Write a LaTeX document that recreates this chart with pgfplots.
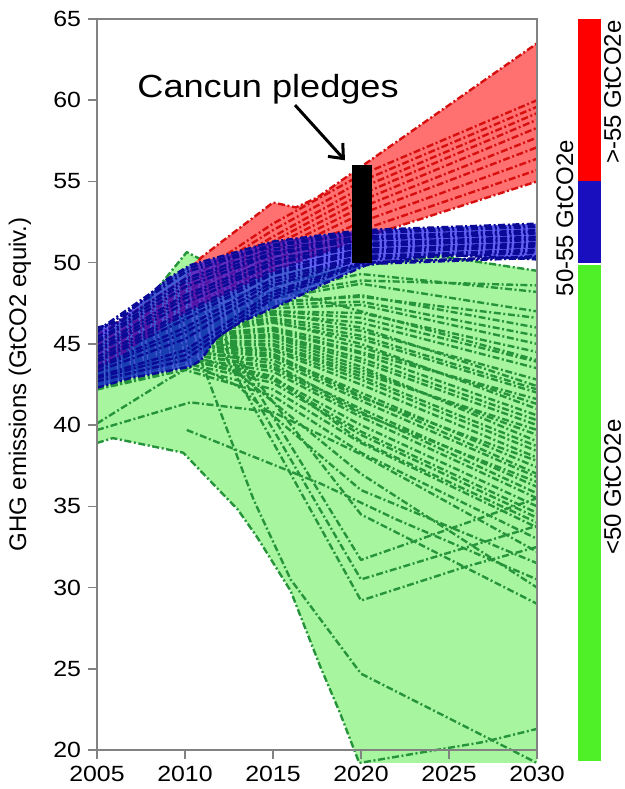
\documentclass[border=0pt]{standalone}
\usepackage{pgfplots}
\pgfplotsset{compat=1.18}
\usepackage{fontspec}
\setmainfont{Liberation Sans}[FakeStretch=1.13]
\newfontfamily\rotfont{Liberation Sans}
\usetikzlibrary{arrows.meta}

\definecolor{gfill}{RGB}{168,245,160}
\definecolor{gline}{RGB}{38,148,58}
\definecolor{rfill}{RGB}{255,112,112}
\definecolor{rline}{RGB}{215,15,15}
\definecolor{bfill}{RGB}{20,20,235}
\definecolor{bline}{RGB}{10,10,150}
\definecolor{axgray}{RGB}{130,130,130}
\definecolor{barred}{RGB}{255,0,0}
\definecolor{barblue}{RGB}{25,15,190}
\definecolor{bargreen}{RGB}{80,240,40}

\pgfplotsset{
  scen/.style={mark=none, line width=1.2bp,
    dash pattern=on 3.5bp off 1.3bp on 1bp off 1.3bp, line join=round},
  gsc/.style={scen, color=gline},
  rsc/.style={scen, color=rline},
  bsc/.style={scen, color=bline},
}

\begin{document}
\begin{tikzpicture}
\useasboundingbox (-48.5bp,-19.5bp) rectangle (264bp,375bp);
\begin{axis}[
  at={(0,0)}, anchor=south west,
  width=220bp, height=365.5bp, scale only axis,
  xmin=2005, xmax=2030, ymin=20, ymax=65,
  xtick={2005,2010,...,2030}, ytick={20,25,...,65},
  tick pos=left, tick align=outside, major tick length=4.5bp,
  tick style={axgray, line width=0.75bp},
  axis line style={axgray, line width=0.75bp},
  /pgf/number format/assume math mode=true,
  /pgf/number format/1000 sep={},
  ticklabel style={font=\fontsize{11bp}{13bp}\selectfont},
  clip=false, axis on top,
  ylabel={GHG emissions (GtCO2 equiv.)},
  ylabel style={font=\rotfont\fontsize{12bp}{14bp}\selectfont,
    at={(axis description cs:-0.175,0.5)}, anchor=center},
]

% ---- below 50 GtCO2e in 2020 ----
\addplot[fill=gfill, draw=none] coordinates {
  (2005,38.9)(2005,45.0)(2008.2,48.1)(2010.1,50.65)(2010.9,50.2)(2013,49.5)
  (2020,49.8)(2024.5,50.5)(2030,49.5)(2030,19.2)(2019.9,19.2)(2018.8,22.3)
  (2017.7,25.1)(2016,29.8)(2014.1,33.1)(2013,34.8)(2011.4,36.6)(2009.9,38.3)
  (2005.9,39.2)} -- cycle;

\addplot[gsc] coordinates {(2005,44.0)(2010,47.0)(2015,48.6)(2020,49.8)(2024.5,50.4)(2030,49.5)};
\addplot[gsc] coordinates {(2005,43.8)(2010,46.8)(2015,48.2)(2020,49.3)(2030,48.2)};
\addplot[gsc] coordinates {(2005,43.6)(2010,46.6)(2015,48.0)(2020,48.9)(2030,48.6)};
\addplot[gsc] coordinates {(2005,43.6)(2010,46.6)(2015,47.8)(2020,48.7)(2030,47.0)};
\addplot[gsc] coordinates {(2005,43.5)(2010,46.4)(2015,47.5)(2020,48.0)(2030,46.0)};
\addplot[gsc] coordinates {(2005,43.5)(2010,46.4)(2015,47.6)(2020,47.9)(2030,46.6)};
\addplot[gsc] coordinates {(2005,43.4)(2010,46.3)(2015,47.4)(2020,47.6)(2030,45.5)};
\addplot[gsc] coordinates {(2005,43.4)(2010,46.2)(2015,47.2)(2020,47.4)(2030,45.0)};
\addplot[gsc] coordinates {(2005,43.3)(2010,46.0)(2015,47.0)(2020,46.9)(2030,44.5)};
\addplot[gsc] coordinates {(2005,43.3)(2010,46.1)(2015,47.0)(2020,46.6)(2030,43.9)};
\addplot[gsc] coordinates {(2005,43.2)(2010,46.0)(2015,46.9)(2020,46.0)(2030,42.4)};
\addplot[gsc] coordinates {(2005,43.2)(2010,45.9)(2015,46.8)(2020,46.3)(2030,43.5)};
\addplot[gsc] coordinates {(2005,43.1)(2010,45.8)(2015,46.6)(2020,45.8)(2030,42.8)};
\addplot[gsc] coordinates {(2005,43.1)(2010,45.8)(2015,46.5)(2020,45.5)(2030,42.2)};
\addplot[gsc] coordinates {(2005,43.0)(2010,45.7)(2015,46.4)(2020,45.0)(2030,41.0)};
\addplot[gsc] coordinates {(2005,43.0)(2010,45.6)(2015,46.3)(2020,45.3)(2030,42.0)};
\addplot[gsc] coordinates {(2005,42.9)(2010,45.5)(2015,46.0)(2020,44.8)(2030,41.3)};
\addplot[gsc] coordinates {(2005,42.9)(2010,45.5)(2015,45.9)(2020,44.5)(2030,41.6)};
\addplot[gsc] coordinates {(2005,42.8)(2010,45.4)(2015,45.8)(2020,44.4)(2030,40.6)};
\addplot[gsc] coordinates {(2005,42.8)(2010,45.3)(2015,45.4)(2020,43.6)(2030,39.0)};
\addplot[gsc] coordinates {(2005,42.8)(2010,45.3)(2015,45.6)(2020,44.1)(2030,40.3)};
\addplot[gsc] coordinates {(2005,42.7)(2010,45.2)(2015,45.5)(2020,43.9)(2030,40.0)};
\addplot[gsc] coordinates {(2005,42.6)(2010,45.1)(2015,45.2)(2020,43.4)(2030,39.4)};
\addplot[gsc] coordinates {(2005,42.6)(2010,45.1)(2015,45.0)(2020,43.2)(2030,39.7)};
\addplot[gsc] coordinates {(2005,42.5)(2010,45.0)(2015,44.9)(2020,43.0)(2030,38.7)};
\addplot[gsc] coordinates {(2005,42.6)(2010,44.9)(2015,44.4)(2020,41.8)(2030,37.0)};
\addplot[gsc] coordinates {(2005,42.5)(2010,44.9)(2015,44.7)(2020,42.8)(2030,38.4)};
\addplot[gsc] coordinates {(2005,42.5)(2010,44.8)(2015,44.6)(2020,42.5)(2030,38.0)};
\addplot[gsc] coordinates {(2005,42.4)(2010,44.7)(2015,44.3)(2020,42.0)(2030,37.4)};
\addplot[gsc] coordinates {(2005,42.4)(2010,44.7)(2015,44.2)(2020,41.7)(2030,37.8)};
\addplot[gsc] coordinates {(2005,42.4)(2010,44.6)(2015,43.8)(2020,40.8)(2030,35.8)};
\addplot[gsc] coordinates {(2005,42.4)(2010,44.5)(2015,44.0)(2020,41.5)(2030,36.8)};
\addplot[gsc] coordinates {(2005,42.3)(2010,44.4)(2015,43.6)(2020,41.0)(2030,36.2)};
\addplot[gsc] coordinates {(2005,42.3)(2010,44.4)(2015,43.5)(2020,40.7)(2030,36.5)};
\addplot[gsc] coordinates {(2005,42.3)(2010,44.2)(2015,43.3)(2020,40.5)(2030,35.5)};
\addplot[gsc] coordinates {(2005,42.3)(2010,44.1)(2015,42.8)(2020,39.6)(2030,34.6)};
\addplot[gsc] coordinates {(2005,42.3)(2010,44.0)(2015,42.9)(2020,40.0)(2030,35.0)};
\addplot[gsc] coordinates {(2005,42.2)(2010,43.8)(2015,42.6)(2020,39.4)(2030,34.3)};
\addplot[gsc] coordinates {(2005,42.2)(2010,43.6)(2015,42.2)(2020,38.9)(2030,33.7)};
\addplot[gsc] coordinates {(2005,42.2)(2010,43.4)(2015,41.8)(2020,38.3)(2030,33.0)};
\addplot[gsc] coordinates {(2005,43.0)(2010,45.6)(2012,45.8)(2020,31.7)(2030,35.5)};
\addplot[gsc] coordinates {(2005,42.9)(2010,45.3)(2012,45.3)(2020,30.5)(2030,33.8)};
\addplot[gsc] coordinates {(2005,42.8)(2010,45.0)(2012,44.8)(2020,29.2)(2026,31.3)(2030,32.5)};
\addplot[gsc] coordinates {(2005,42.6)(2010,44.6)(2013,44.2)(2020,34.5)(2030,29.0)};
\addplot[gsc] coordinates {(2005,42.5)(2010,44.2)(2013,43.2)(2020,37.0)(2030,30.0)};
\addplot[gsc] coordinates {(2005,42.4)(2010,44.0)(2013,42.4)(2020,36.0)(2030,31.5)};
\addplot[gsc] coordinates {(2005,39.7)(2010.3,41.4)(2015,40.8)(2020,38.2)(2030,32.2)};
\addplot[gsc] coordinates {(2005,40.1)(2009,42.8)(2011,44.0)(2015,43.0)(2020,39.0)(2030,34.0)};
\addplot[gsc] coordinates {(2010.1,39.7)(2017.7,36.4)(2022,34.2)(2030,30.5)};
\addplot[gsc] coordinates {(2010.9,44.0)(2013.9,35.4)(2016,30.5)(2020,24.7)(2030,19.2)};
\addplot[gsc] coordinates {(2005,43.5)(2008.2,48.1)(2010.1,50.65)(2010.9,50.2)(2015,48.5)(2020,47.0)(2030,44.0)};
\addplot[gsc] coordinates {(2005,38.9)(2005.9,39.2)(2009.9,38.3)(2011.4,36.6)(2013,34.8)(2014.1,33.1)
  (2016,29.8)(2017.7,25.1)(2018.8,22.3)(2019.9,19.2)(2027,20.5)(2030,21.3)};

% ---- above 55 GtCO2e in 2020 ----
\addplot[fill=rfill, draw=none] coordinates {
  (2010.3,49.85)(2010.9,50.3)(2012.7,51.8)(2015,53.7)(2016.3,53.4)(2017.5,54.0)
  (2030,63.5)(2030,55.0)(2020,51.5)(2015,49.5)(2010.3,47.1)} -- cycle;

\addplot[rsc] coordinates {(2005,45.5)(2010,49.0)(2010.9,50.3)(2012.7,51.8)(2015,53.7)(2016.3,53.4)(2017.5,54.0)(2030,63.5)};
\addplot[rsc] coordinates {(2005,45.2)(2010,48.8)(2015,52.4)(2020,55.4)(2030,60.0)};
\addplot[rsc] coordinates {(2005,45.0)(2010,48.6)(2015,52.0)(2020,55.0)(2030,59.6)};
\addplot[rsc] coordinates {(2005,44.8)(2010,48.4)(2015,51.6)(2020,54.6)(2030,59.2)};
\addplot[rsc] coordinates {(2005,44.6)(2010,48.2)(2015,51.3)(2020,54.2)(2030,58.8)};
\addplot[rsc] coordinates {(2005,44.4)(2010,48.0)(2015,51.0)(2020,53.8)(2030,58.3)};
\addplot[rsc] coordinates {(2005,44.2)(2010,47.8)(2015,50.7)(2020,53.4)(2030,57.7)};
\addplot[rsc] coordinates {(2005,44.0)(2010,47.6)(2015,50.4)(2020,53.0)(2030,57.1)};
\addplot[rsc] coordinates {(2005,43.8)(2010,47.4)(2015,50.1)(2020,52.5)(2030,56.4)};
\addplot[rsc] coordinates {(2005,43.6)(2010,47.2)(2015,49.8)(2020,52.0)(2030,55.7)};
\addplot[rsc] coordinates {(2005,43.4)(2010,47.0)(2015,49.5)(2020,51.5)(2030,55.0)};

% ---- 50 to 55 GtCO2e in 2020 ----
\addplot[fill=bfill, fill opacity=0.68, draw=none] coordinates {
  (2005,46.0)(2006.1,46.3)(2007.4,47.5)(2009,49.0)(2010.3,49.85)(2015,51.3)
  (2020,52.0)(2030,52.4)(2030,50.2)(2024.5,50.5)(2020.3,49.85)(2017.7,48.6)
  (2016,47.7)(2013.1,46.3)(2011.8,45.4)(2010.9,44.0)(2010.3,43.6)(2008.4,43.2)
  (2006.9,42.9)(2005,42.3)} -- cycle;

\addplot[bsc] coordinates {(2005,46.0)(2006.1,46.3)(2007.4,47.5)(2009,49.0)(2010.3,49.85)(2015,51.3)(2020,52.0)(2030,52.4)};
\addplot[bsc] coordinates {(2005,45.8)(2010,49.6)(2015,51.1)(2020,51.9)(2030,52.3)};
\addplot[bsc] coordinates {(2005,45.7)(2010,49.4)(2015,51.0)(2020,51.8)(2030,52.2)};
\addplot[bsc] coordinates {(2005,45.4)(2010,49.0)(2015,50.8)(2020,51.6)(2030,52.0)};
\addplot[bsc] coordinates {(2005,45.2)(2010,48.8)(2015,50.6)(2020,51.5)(2030,51.9)};
\addplot[bsc] coordinates {(2005,45.1)(2010,48.5)(2015,50.5)(2020,51.4)(2030,51.8)};
\addplot[bsc] coordinates {(2005,44.8)(2010,48.0)(2015,50.2)(2020,51.2)(2030,51.6)};
\addplot[bsc] coordinates {(2005,44.6)(2010,47.8)(2015,50.0)(2020,51.1)(2030,51.5)};
\addplot[bsc] coordinates {(2005,44.5)(2010,47.5)(2015,49.9)(2020,51.0)(2030,51.4)};
\addplot[bsc] coordinates {(2005,44.2)(2010,47.0)(2015,49.6)(2020,50.8)(2030,51.2)};
\addplot[bsc] coordinates {(2005,44.0)(2010,46.8)(2015,49.4)(2020,50.7)(2030,51.1)};
\addplot[bsc] coordinates {(2005,43.9)(2010,46.5)(2015,49.3)(2020,50.6)(2030,51.0)};
\addplot[bsc] coordinates {(2005,43.6)(2010,46.0)(2015,49.0)(2020,50.4)(2030,50.8)};
\addplot[bsc] coordinates {(2005,43.5)(2010,45.7)(2015,48.8)(2020,50.3)(2030,50.7)};
\addplot[bsc] coordinates {(2005,43.3)(2010,45.3)(2015,48.6)(2020,50.2)(2030,50.6)};
\addplot[bsc] coordinates {(2005,43.0)(2010,44.6)(2015,48.2)(2020,50.0)(2030,50.4)};
\addplot[bsc] coordinates {(2005,42.9)(2010,44.3)(2015,48.0)(2020,50.0)(2030,50.35)};
\addplot[bsc] coordinates {(2005,42.7)(2010,44.0)(2015,47.8)(2020,49.9)(2030,50.3)};
\addplot[bsc] coordinates {(2005,42.3)(2006.9,42.9)(2008.4,43.2)(2010.3,43.6)(2010.9,44.0)(2011.8,45.4)
  (2013.1,46.3)(2016,47.7)(2017.7,48.6)(2020.3,49.85)(2024.5,50.5)(2030,50.2)};

% ---- pledge range for 2020 ----
\addplot[black, line width=10bp, line cap=butt] coordinates {(2020.06,50)(2020.06,56)};
\draw[black, line width=1.5bp, -{Straight Barb[length=6bp,width=10bp]}]
  (axis cs:2016.25,59.7) -- (axis cs:2019.09,56.3);
\node[font=\fontsize{16bp}{18bp}\selectfont, anchor=base] at (axis cs:2014.72,60.14) {Cancun pledges};

% ---- colour key ----
\addplot[fill=barred, draw=none] coordinates {(2032.33,55)(2033.64,55)(2033.64,65)(2032.33,65)} -- cycle;
\addplot[fill=barblue, draw=none] coordinates {(2032.33,50)(2033.64,50)(2033.64,55)(2032.33,55)} -- cycle;
\addplot[fill=bargreen, draw=none] coordinates {(2032.33,19.3)(2033.64,19.3)(2033.64,49.85)(2032.33,49.85)} -- cycle;
\node[rotate=90, inner sep=0pt, font=\rotfont\fontsize{12bp}{14bp}\selectfont] at (axis cs:2031.59,52.75) {50-55 GtCO2e};
\node[rotate=90, inner sep=0pt, font=\rotfont\fontsize{12bp}{14bp}\selectfont] at (axis cs:2034.3,60.5) {>-55 GtCO2e};
\node[rotate=90, inner sep=0pt, font=\rotfont\fontsize{12bp}{14bp}\selectfont] at (axis cs:2034.3,36.18) {<50 GtCO2e};
\end{axis}
\end{tikzpicture}
\end{document}
